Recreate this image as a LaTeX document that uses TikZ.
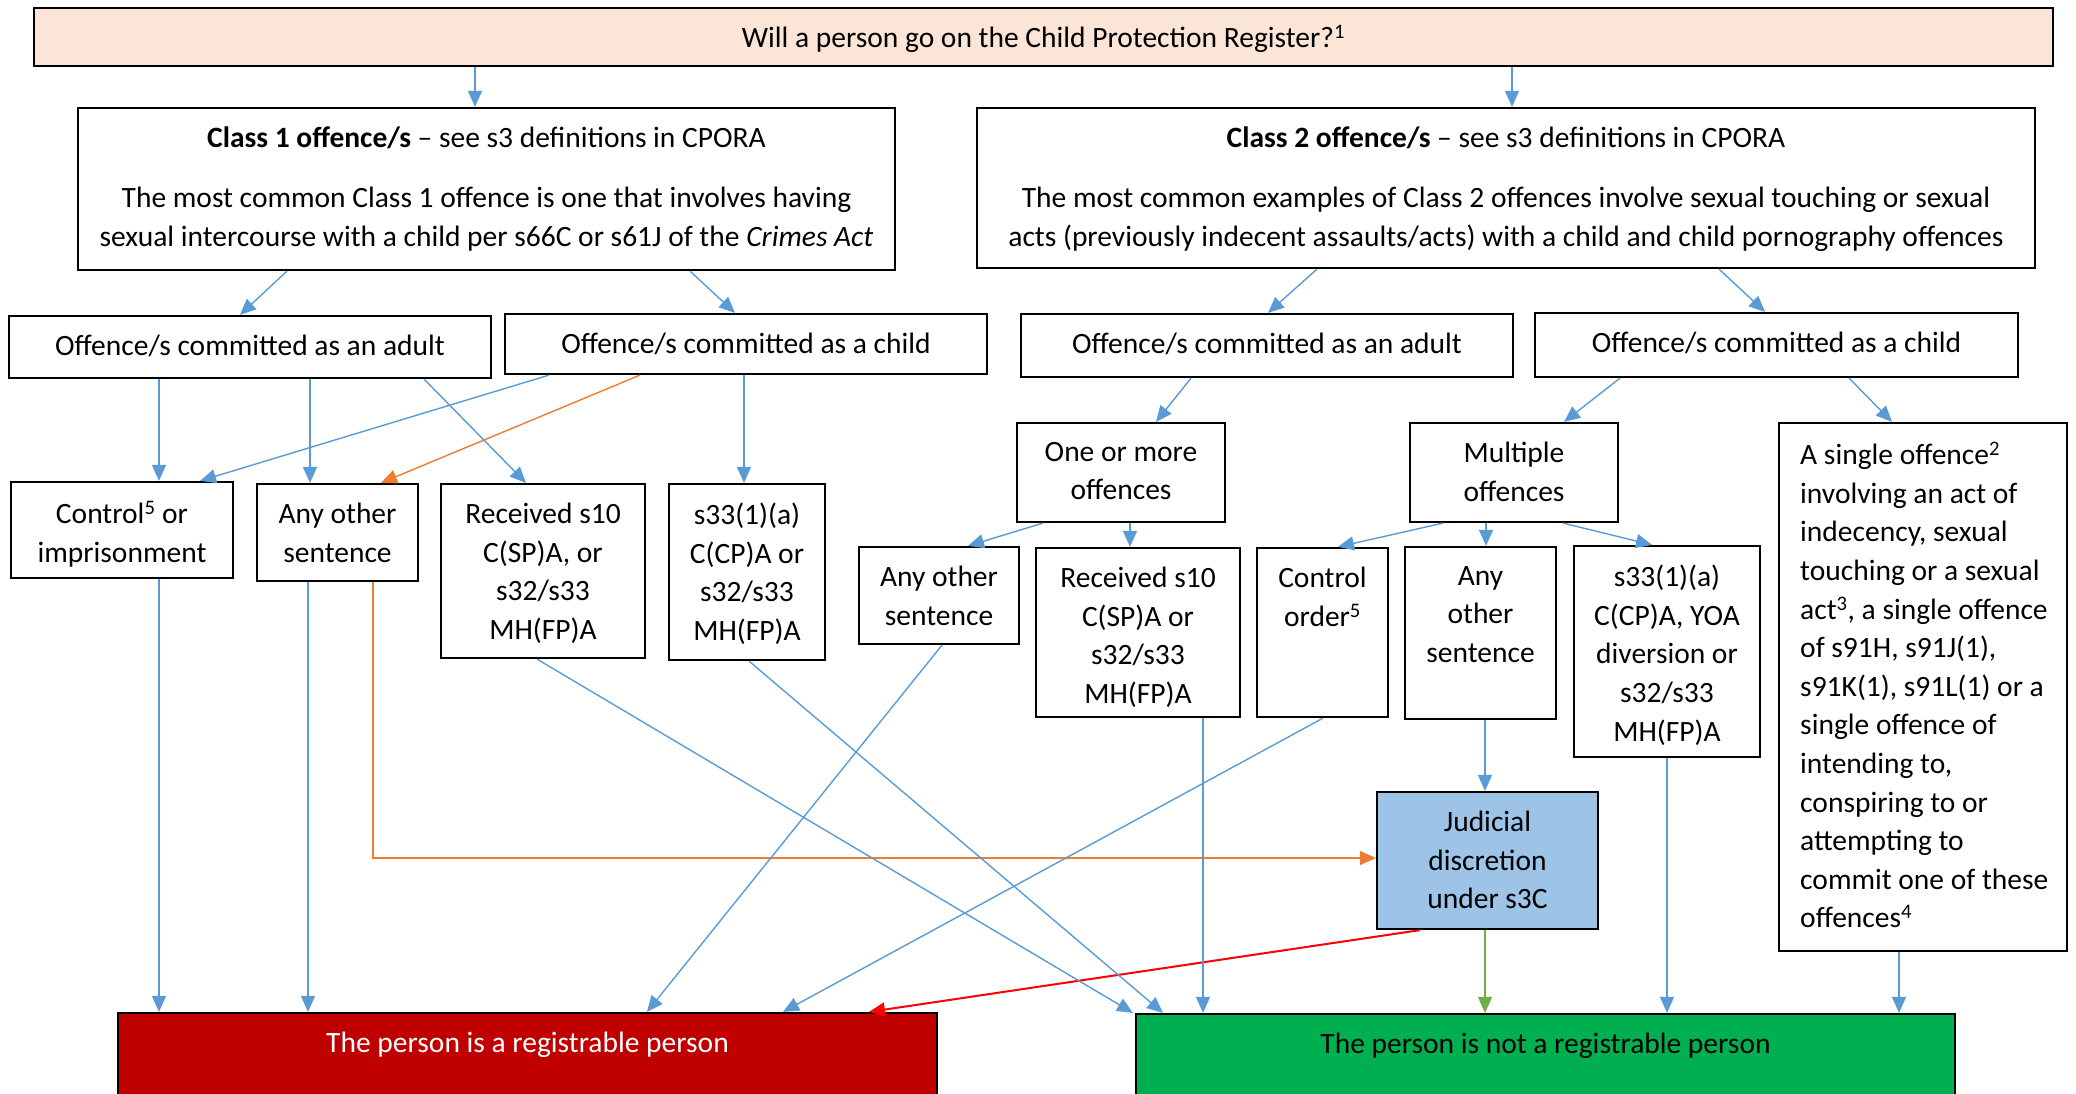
\documentclass[tikz,border=0pt]{standalone}
\usepackage{fontspec}
\setmainfont{Carlito}
\usetikzlibrary{arrows.meta}
\definecolor{peach}{HTML}{FBE5D6}
\definecolor{lnblue}{HTML}{5B9BD5}
\definecolor{lnorange}{HTML}{ED7D31}
\definecolor{boxred}{HTML}{C00000}
\definecolor{boxgreen}{HTML}{00B050}
\definecolor{judblue}{HTML}{9DC3E6}
\definecolor{lngreen}{HTML}{70AD47}
\definecolor{lnred}{HTML}{FF0000}
\tikzset{
  box/.style={draw=black, line width=2.2pt, inner sep=0pt, rectangle},
  txt/.style={anchor=north, align=center, inner sep=0pt, font=\fontsize{29.5}{38.6}\selectfont, execute at begin node=\strut},
  arr/.style={draw=lnblue, line width=1.4pt, -{Triangle[length=16pt,width=14pt]}},
  arrorange/.style={arr, draw=lnorange},
  arrred/.style={arr, draw=lnred, line width=2pt},
  arrgreen/.style={arr, draw=lngreen},
}
\def\textoff{19}
\newcommand\mkbox[7][]{%
  \node[box,#1,minimum width={(#5-#3)*1pt},minimum height={(#6-#4)*1pt}] (#2) at ({(#3+#5)/2},{(#4+#6)/2}) {};
  \node[txt] (#2t) at ({(#3+#5)/2},{#4+\textoff}) {#7};}
\begin{document}
\begin{tikzpicture}[x=1pt,y=-1pt]
\useasboundingbox (0,0) rectangle (2076,1094);
\fill[white] (0,0) rectangle (2076,1094);
\clip (0,0) rectangle (2076,1094);

\def\textoff{12}
\mkbox[fill=peach]{top}{34}{8}{2053}{66}{Will a person go on the Child Protection Register?\textsuperscript{1}}
\mkbox{adultA}{9}{316}{491}{378}{Offence/s committed as an adult}
\mkbox{childA}{505}{314}{987}{374}{Offence/s committed as a child}
\mkbox{adultB}{1021}{314}{1513}{377}{Offence/s committed as an adult}
\mkbox{childB}{1535}{313}{2018}{377}{Offence/s committed as a child}
\mkbox[fill=boxred]{reg}{118}{1013}{937}{1102}{\textcolor{white}{The person is a registrable person}}
\mkbox[fill=boxgreen]{notreg}{1136}{1014}{1955}{1102}{The person is not a registrable person}

\def\textoff{19}
\mkbox{classA}{78}{108}{895}{270}{\textbf{Class 1 offence/s} – see s3 definitions in CPORA\\[21.4pt]The most common Class 1 offence is one that involves having\\sexual intercourse with a child per s66C or s61J of the \textit{Crimes Act}}
\mkbox{classB}{977}{108}{2035}{268}{\textbf{Class 2 offence/s} – see s3 definitions in CPORA\\[21.4pt]The most common examples of Class 2 offences involve sexual touching or sexual\\acts (previously indecent assaults/acts) with a child and child pornography offences}
\mkbox{ctrlL}{11}{482}{233}{578}{Control\textsuperscript{5} or\\imprisonment}
\mkbox{anyL}{257}{484}{418}{581}{Any other\\sentence}
\mkbox{recL}{441}{484}{645}{658}{Received s10\\C(SP)A, or\\s32/s33\\MH(FP)A}
\mkbox{sL}{669}{484}{825}{660}{s33(1)(a)\\C(CP)A or\\s32/s33\\MH(FP)A}
\mkbox{one}{1017}{423}{1225}{522}{One or more\\offences}
\mkbox{mult}{1410}{423}{1618}{522}{Multiple\\offences}
\node[box,minimum width=288pt,minimum height=528pt] (single) at (1923,687) {};
\node[txt,anchor=north west,align=left] (singlet) at (1800,442) {A single offence\textsuperscript{2}\\involving an act of\\indecency, sexual\\touching or a sexual\\act\textsuperscript{3}, a single offence\\of s91H, s91J(1),\\s91K(1), s91L(1) or a\\single offence of\\intending to,\\conspiring to or\\attempting to\\commit one of these\\offences\textsuperscript{4}};
\mkbox{anyM}{859}{547}{1019}{644}{Any other\\sentence}
\mkbox{recR}{1036}{548}{1240}{717}{Received s10\\C(SP)A or\\s32/s33\\MH(FP)A}
\mkbox{ctrlR}{1257}{548}{1388}{717}{Control\\order\textsuperscript{5}}
\mkbox{anyR}{1405}{547}{1556}{719}{Any\\other\\sentence}
\mkbox{sR}{1574}{546}{1760}{757}{s33(1)(a)\\C(CP)A, YOA\\diversion or\\s32/s33\\MH(FP)A}
\mkbox[fill=judblue]{jud}{1377}{792}{1598}{929}{Judicial\\discretion\\under s3C}

% connectors
\draw[arr] (top.south -| 475,0) -- (classA.north -| 475,0);
\draw[arr] (top.south -| 1512,0) -- (classB.north -| 1512,0);
\draw[arr] (classA.south -| 287,0) -- (adultA.north -| 240,0);
\draw[arr] (classA.south -| 690,0) -- (childA.north -| 735,0);
\draw[arr] (classB.south -| 1317,0) -- (adultB.north -| 1268,0);
\draw[arr] (classB.south -| 1719,0) -- (childB.north -| 1765,0);
\draw[arr] (adultA.south -| 159,0) -- (ctrlL.north -| 159,0);
\draw[arr] (childA.south -| 549,0) -- (ctrlL.north -| 200,0);
\draw[arr] (adultA.south -| 310,0) -- (anyL.north -| 310,0);
\draw[arrorange] (childA.south -| 640,0) -- (anyL.north -| 381,0);
\draw[arr] (adultA.south -| 424,0) -- (recL.north -| 526,0);
\draw[arr] (childA.south -| 744,0) -- (sL.north -| 744,0);
\draw[arr] (adultB.south -| 1191,0) -- (one.north -| 1156,0);
\draw[arr] (childB.south -| 1620,0) -- (mult.north -| 1564,0);
\draw[arr] (childB.south -| 1849,0) -- (single.north -| 1892,0);
\draw[arr] (one.south -| 1043,0) -- (anyM.north -| 968,0);
\draw[arr] (one.south -| 1130,0) -- (recR.north -| 1130,0);
\draw[arr] (mult.south -| 1443,0) -- (ctrlR.north -| 1338,0);
\draw[arr] (mult.south -| 1486,0) -- (anyR.north -| 1486,0);
\draw[arr] (mult.south -| 1563,0) -- (sR.north -| 1652,0);
\draw[arr] (anyR.south -| 1485,0) -- (jud.north -| 1485,0);
\draw[arr] (ctrlL.south -| 159,0) -- (reg.north -| 159,0);
\draw[arr] (anyL.south -| 308,0) -- (reg.north -| 308,0);
\draw[arrorange] (anyL.south -| 373,0) |- (jud.west |- 0,858);
\draw[arr] (anyM.south -| 942,0) -- (reg.north -| 647,0);
\draw[arr] (ctrlR.south -| 1323,0) -- (reg.north -| 783,0);
\draw[arrred] (jud.south -| 1420,0) -- (reg.north -| 869,0);
\draw[arr] (recL.south -| 537,0) -- (notreg.north -| 1133,0);
\draw[arr] (sL.south -| 749,0) -- (notreg.north -| 1163,0);
\draw[arr] (recR.south -| 1203,0) -- (notreg.north -| 1203,0);
\draw[arrgreen] (jud.south -| 1485,0) -- (notreg.north -| 1485,0);
\draw[arr] (sR.south -| 1667,0) -- (notreg.north -| 1667,0);
\draw[arr] (single.south -| 1899,0) -- (notreg.north -| 1899,0);
\end{tikzpicture}
\end{document}
